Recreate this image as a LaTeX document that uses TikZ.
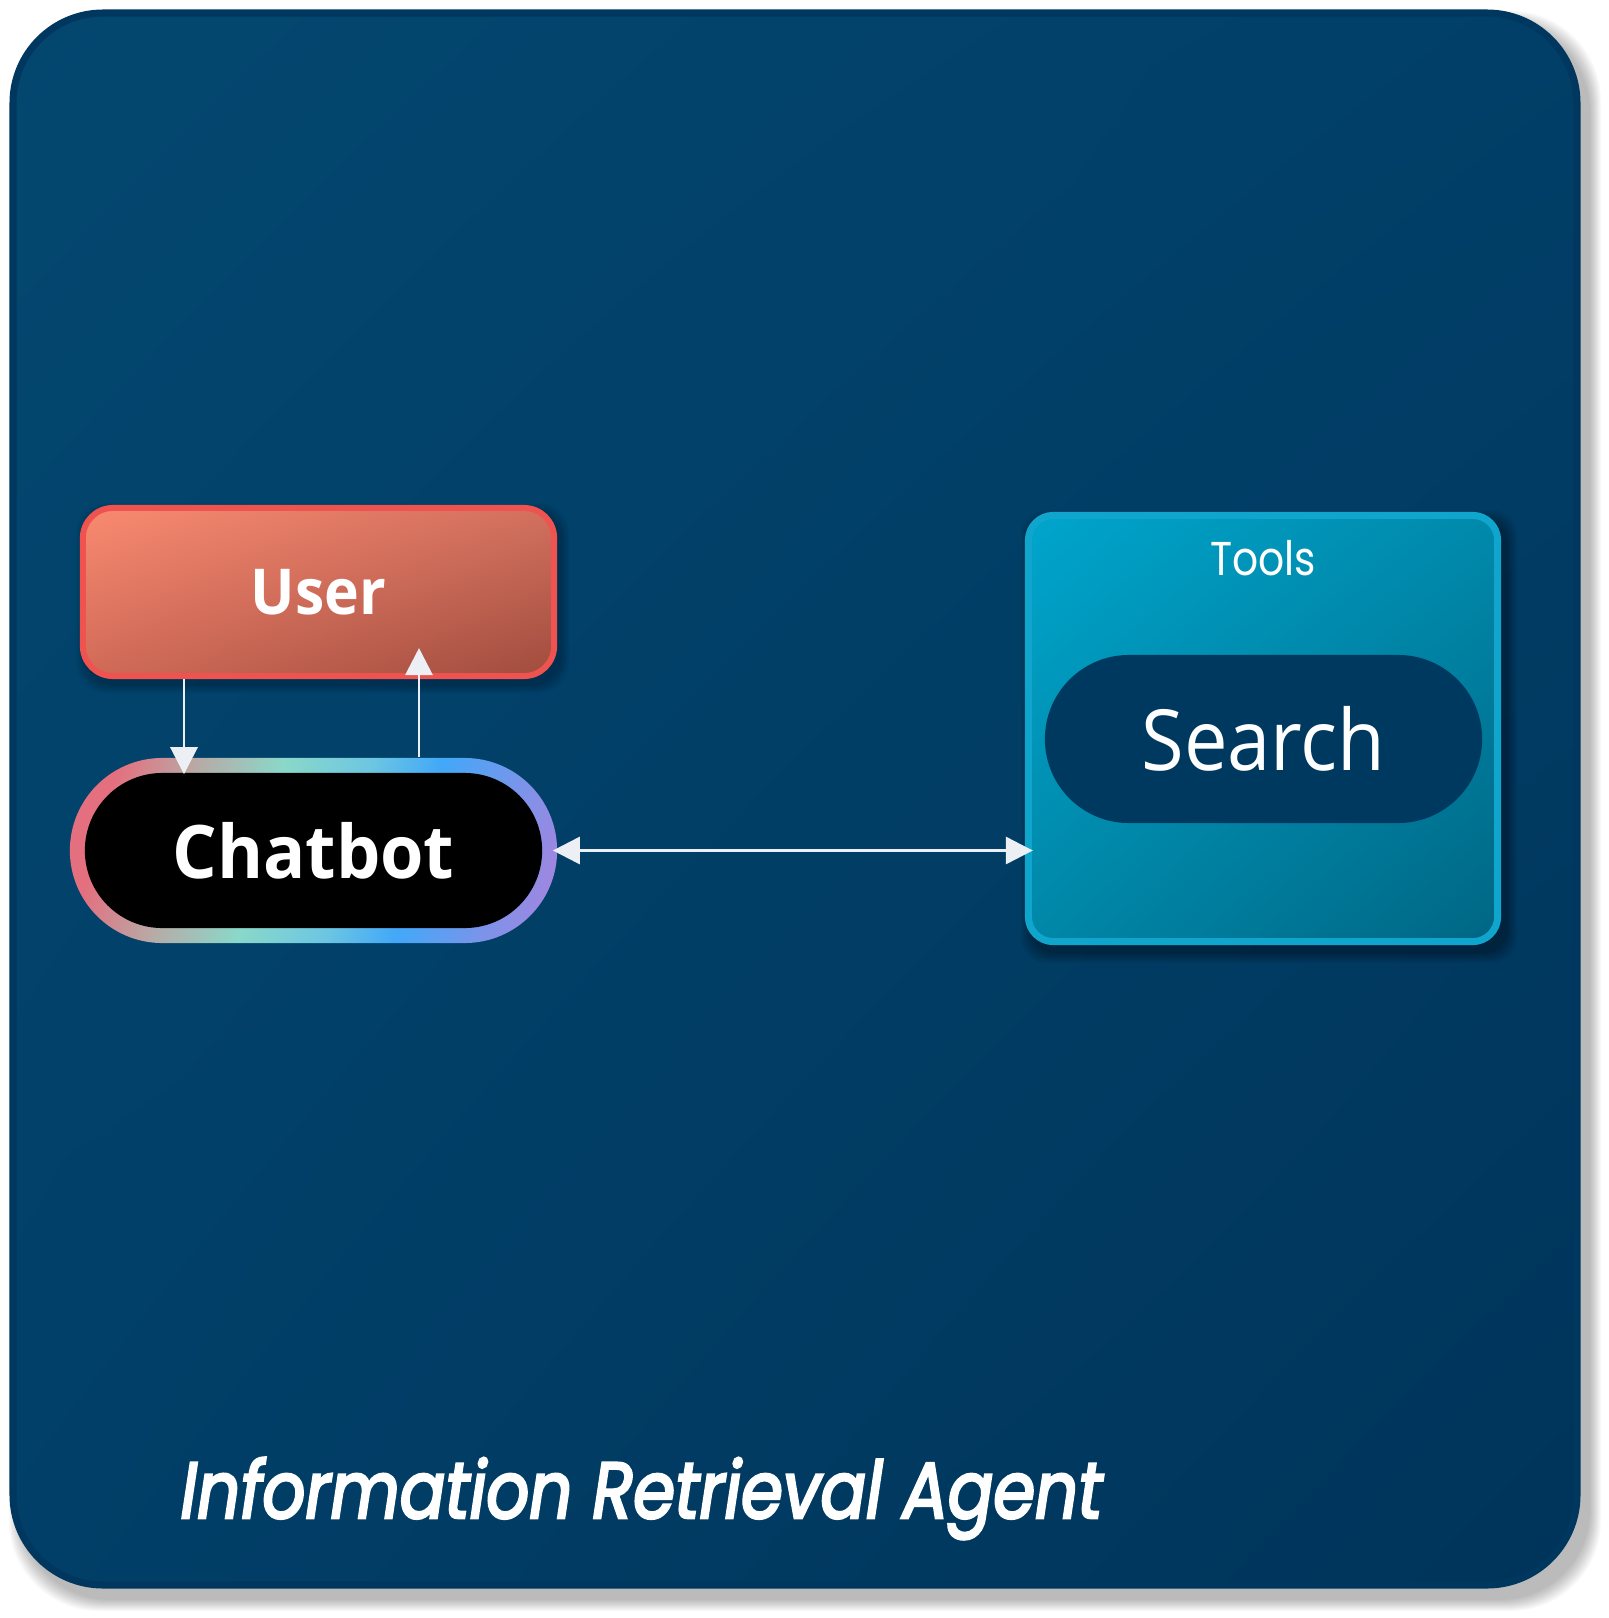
\documentclass[tikz,border=0pt]{standalone}
\usepackage{graphicx}
\usepackage{fontspec}
\setmainfont{Open Sans}
\newfontfamily\geo{Poppins}
\newfontfamily\geotitle{Poppins}[FakeBold=3.5]
\usetikzlibrary{arrows.meta,shadings}
\definecolor{frameborder}{HTML}{00375E}
\definecolor{frameA}{HTML}{03476F}
\definecolor{frameB}{HTML}{013F68}
\definecolor{frameC}{HTML}{00345A}
\definecolor{userborder}{HTML}{EF5350}
\definecolor{userA}{HTML}{F98A70}
\definecolor{userB}{HTML}{D2705E}
\definecolor{userC}{HTML}{D06A58}
\definecolor{userD}{HTML}{A04C3E}
\definecolor{toolsborder}{HTML}{10A5CD}
\definecolor{toolsA}{HTML}{00A5CC}
\definecolor{toolsB}{HTML}{0089AB}
\definecolor{toolsC}{HTML}{0087A8}
\definecolor{toolsD}{HTML}{006684}
\definecolor{searchfill}{HTML}{00395F}
\definecolor{arrowcol}{HTML}{ECEFF4}
\definecolor{ringA}{HTML}{E4707F}
\definecolor{ringB}{HTML}{B8AAA6}
\definecolor{ringC}{HTML}{8AD8C9}
\definecolor{ringD}{HTML}{6CC6E2}
\definecolor{ringE}{HTML}{42A8F8}
\definecolor{ringF}{HTML}{A385DF}
\pgfdeclarehorizontalshading{ring}{100bp}{color(0bp)=(ringA); color(25bp)=(ringA); color(34bp)=(ringB); color(44bp)=(ringC); color(54bp)=(ringD); color(62bp)=(ringE); color(79bp)=(ringF); color(100bp)=(ringF)}
\tikzset{
  userbox/.style={rectangle, rounded corners=0.3cm, minimum width=4.71cm, minimum height=1.68cm,
    line width=1.7pt, draw=userborder, upper left=userA, upper right=userB, lower left=userC, lower right=userD,
    text=white, font=\fontsize{18}{20}\selectfont\bfseries},
  chatbox/.style={rectangle, rounded corners=0.925cm, minimum width=4.87cm, minimum height=1.85cm,
    shading=ring, shading angle=-15, text=white, font=\fontsize{21}{24}\selectfont\bfseries,
    path picture={\fill[black, rounded corners=0.775cm]
      ([shift={(15,15)}]path picture bounding box.north west) rectangle
      ([shift={(-15,-15)}]path picture bounding box.south east);}},
  toolsbox/.style={rectangle, rounded corners=0.25cm, minimum width=4.69cm, minimum height=4.26cm,
    line width=2pt, draw=toolsborder, upper left=toolsA, upper right=toolsB, lower left=toolsC, lower right=toolsD},
  searchbox/.style={rectangle, rounded corners=0.84cm, minimum width=4.37cm, minimum height=1.68cm,
    fill=searchfill, text=white, font=\fontsize{24}{28}\selectfont},
  labeltext/.style={text=white, inner sep=0pt},
  arr/.style={draw=arrowcol, line width=0.85pt, -{Triangle[length=0.27cm, width=0.27cm]}},
  arrboth/.style={draw=arrowcol, line width=0.85pt, {Triangle[length=0.27cm, width=0.27cm]}-{Triangle[length=0.27cm, width=0.27cm]}},
}
\begin{document}
\begin{tikzpicture}[x=0.01cm, y=-0.01cm]
\useasboundingbox (0,0) rectangle (1609,1618);
\fill[white] (0,0) rectangle (1609,1618);
% outer frame shadow
\foreach \i in {0,...,11}
  \fill[black, opacity=0.022, rounded corners=0.9cm] ({10+10-\i},{10+12-\i}) rectangle ({1580+10+\i},{1588+12+\i});
% outer frame
\path[draw=frameborder, line width=2pt, rounded corners=0.9cm,
  upper left=frameA, upper right=frameB, lower left=frameB, lower right=frameC]
  (13,13) rectangle (1577,1585);
% user shadow
\foreach \i in {0,...,8}
  \fill[black, opacity=0.025, rounded corners=0.3cm] ({80+4-\i},{505+6-\i}) rectangle ({557+4+\i},{679+6+\i});
% tools shadow
\foreach \i in {0,...,10}
  \fill[black, opacity=0.03, rounded corners=0.25cm] ({1025+6-\i},{512+8-\i}) rectangle ({1501+6+\i},{945+8+\i});
% nodes
\node[userbox] (user) at (318.5,592) {\scalebox{0.93}[1]{User}};
\node[chatbox] (chat) at (313.5,850.5) {\scalebox{0.95}[1]{Chatbot}};
\node[toolsbox] (tools) at (1263,728.5) {};
\node[labeltext, font=\geo\fontsize{13.5}{15}\selectfont] (toolslabel) at (1263,558) {\scalebox{0.86}[1]{Tools}};
\node[searchbox] (search) at (1263.5,739) {\scalebox{0.92}[1]{Search}};
\node[labeltext, anchor=base west, font=\geotitle\fontsize{22.5}{26}\selectfont\itshape] (title) at (180,1518) {\scalebox{0.85}[1]{Information Retrieval Agent}};
% connectors
\coordinate (dx) at (184,0);
\coordinate (ux) at (419,0);
\draw[arr, shorten >=-0.17cm] (user.south -| dx) -- (chat.north -| dx);
\draw[arr, shorten >=-0.31cm] (chat.north -| ux) -- (user.south -| ux);
\draw[arrboth, shorten <=-0.05cm, shorten >=-0.08cm] (chat.east) -- (chat.east -| tools.west);
\end{tikzpicture}
\end{document}
